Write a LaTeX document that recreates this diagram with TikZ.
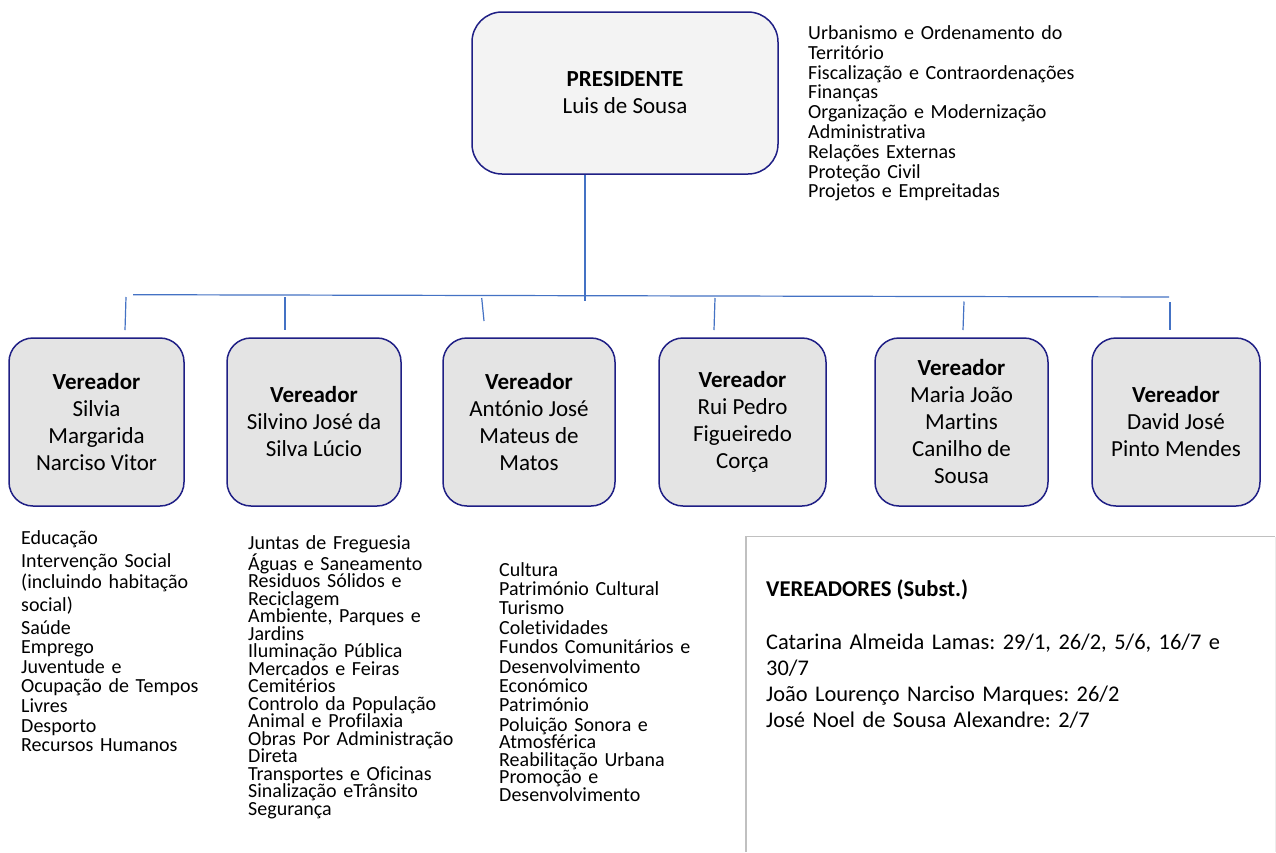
\documentclass[tikz,border=0pt]{standalone}
\usepackage{fontspec}
\setmainfont{Carlito}[Ligatures=NoCommon]
\lineskiplimit=-100pt
\lineskip=0pt
\frenchspacing
\definecolor{navy}{HTML}{1F1F85}
\definecolor{connblue}{HTML}{4472C4}
\definecolor{presfill}{HTML}{F3F3F3}
\definecolor{vfill}{HTML}{E4E4E4}
\definecolor{boxgray}{HTML}{C0C0C0}
\definecolor{faintgray}{HTML}{ECECEC}
\tikzset{
  orgbox/.style={draw=navy, line width=1.5pt, rounded corners=24pt, align=center,
    font=\fontsize{23}{27}\selectfont, inner sep=0pt},
  presbox/.style={orgbox, fill=presfill, minimum width=306pt, minimum height=162pt, rounded corners=30pt},
  vbox/.style={orgbox, fill=vfill, minimum height=168pt},
  conn/.style={draw=connblue, line width=1.2pt},
  duties/.style={anchor=base west, inner sep=0pt, text width=320pt, align=left,
    font=\fontsize{20}{19.8}\selectfont},
  subframe/.style={draw=boxgray, line width=1.4pt}
}
\begin{document}
\begin{tikzpicture}[x=1pt,y=-1pt]
\useasboundingbox (0,0) rectangle (1276,852);
\fill[white] (0,0) rectangle (1276,852);

% President
\node[presbox] (p) at (625,93) {\textbf{PRESIDENTE}\\Luis de Sousa};
\node[duties] (plist) at (808,39.5) {Urbanismo e Ordenamento do\\Território\\Fiscalização e Contraordenações\\Finanças\\Organização e Modernização\\Administrativa\\Relações Externas\\Proteção Civil\\Projetos e Empreitadas};

% Vereador boxes
\node[vbox, minimum width=175pt] (v1) at (96.5,422) {\textbf{Vereador}\\Silvia\\Margarida\\Narciso Vitor};
\node[vbox, minimum width=174pt] (v2) at (314,422) {\textbf{Vereador}\\Silvino José da\\Silva Lúcio};
\node[vbox, minimum width=172pt] (v3) at (529,422) {\textbf{Vereador}\\António José\\Mateus de\\Matos};
\node[vbox, minimum width=167pt] (v4) at (742.5,422) {\textbf{Vereador}\\Rui Pedro\\Figueiredo\\Corça};
\node[vbox, minimum width=173pt] (v5) at (961.5,422) {\textbf{Vereador}\\Maria João\\Martins\\Canilho de\\Sousa};
\node[vbox, minimum width=168pt] (v6) at (1176,422) {\textbf{Vereador}\\David José\\Pinto Mendes};

% Connectors
\coordinate (pdrop) at (585,300.5);
\coordinate (barL) at (133,294.7);
\coordinate (barR) at (1169,297);
\coordinate (t1a) at (126,297);   \coordinate (t1b) at (125,330);
\coordinate (t2a) at (285,297);   \coordinate (t2b) at (285,330);
\coordinate (t3a) at (481.7,298); \coordinate (t3b) at (484,321);
\coordinate (t4a) at (715,298);   \coordinate (t4b) at (714,330);
\coordinate (t5a) at (964,301.5); \coordinate (t5b) at (963,330);
\coordinate (t6a) at (1170,302);  \coordinate (t6b) at (1170,330);
\draw[conn] (p.south -| pdrop) -- (pdrop);
\draw[conn] (barL) -- (barR);
\draw[conn] (t1a) -- (t1b);
\draw[conn] (t2a) -- (t2b);
\draw[conn] (t3a) -- (t3b);
\draw[conn] (t4a) -- (t4b);
\draw[conn] (t5a) -- (t5b);
\draw[conn] (t6a) -- (t6b);

% Duty lists
\node[duties, font=\fontsize{20}{19.6}\selectfont] (l1) at (21,544) {Educação\\[3.4pt]Intervenção Social\\[1.4pt](incluindo habitação\\[3.4pt]social)\\[3.4pt]Saúde\\Emprego\\Juventude e\\Ocupação de Tempos\\Livres\\Desporto\\Recursos Humanos};
\node[duties, font=\fontsize{20}{17.5}\selectfont] (l2) at (248,549) {Juntas de Freguesia\\Águas e Saneamento\\Residuos Sólidos e\\Reciclagem\\Ambiente, Parques e\\Jardins\\Iluminação Pública\\Mercados e Feiras\\Cemitérios\\Controlo da População\\Animal e Profilaxia\\Obras Por Administração\\Direta\\Transportes e Oficinas\\Sinalização eTrânsito\\Segurança};
\node[duties, font=\fontsize{20}{17.5}\selectfont] (l3) at (499,576) {Cultura\\[1.9pt]Património Cultural\\[1.9pt]Turismo\\[1.9pt]Coletividades\\[1.9pt]Fundos Comunitários e\\[1.9pt]Desenvolvimento\\[1.9pt]Económico\\[1.9pt]Património\\[1.9pt]Poluição Sonora e\\Atmosférica\\Reabilitação Urbana\\Promoção e\\Desenvolvimento};

% Substitutes box
\draw[subframe] (746,852) -- (746,536.5) -- (1275,536.5);
\draw[draw=faintgray, line width=1pt] (1275,536.5) -- (1275,852);
\node[anchor=base west, inner sep=0pt, font=\bfseries\fontsize{22.6}{26}\selectfont] (st) at (766,596) {VEREADORES (Subst.)};
\node[duties, text width=490pt, font=\fontsize{22.4}{26.2}\selectfont] (sb) at (766,649) {Catarina Almeida Lamas: 29/1, 26/2, 5/6, 16/7 e\\30/7\\João Lourenço Narciso Marques: 26/2\\José Noel de Sousa Alexandre: 2/7};
\end{tikzpicture}
\end{document}
